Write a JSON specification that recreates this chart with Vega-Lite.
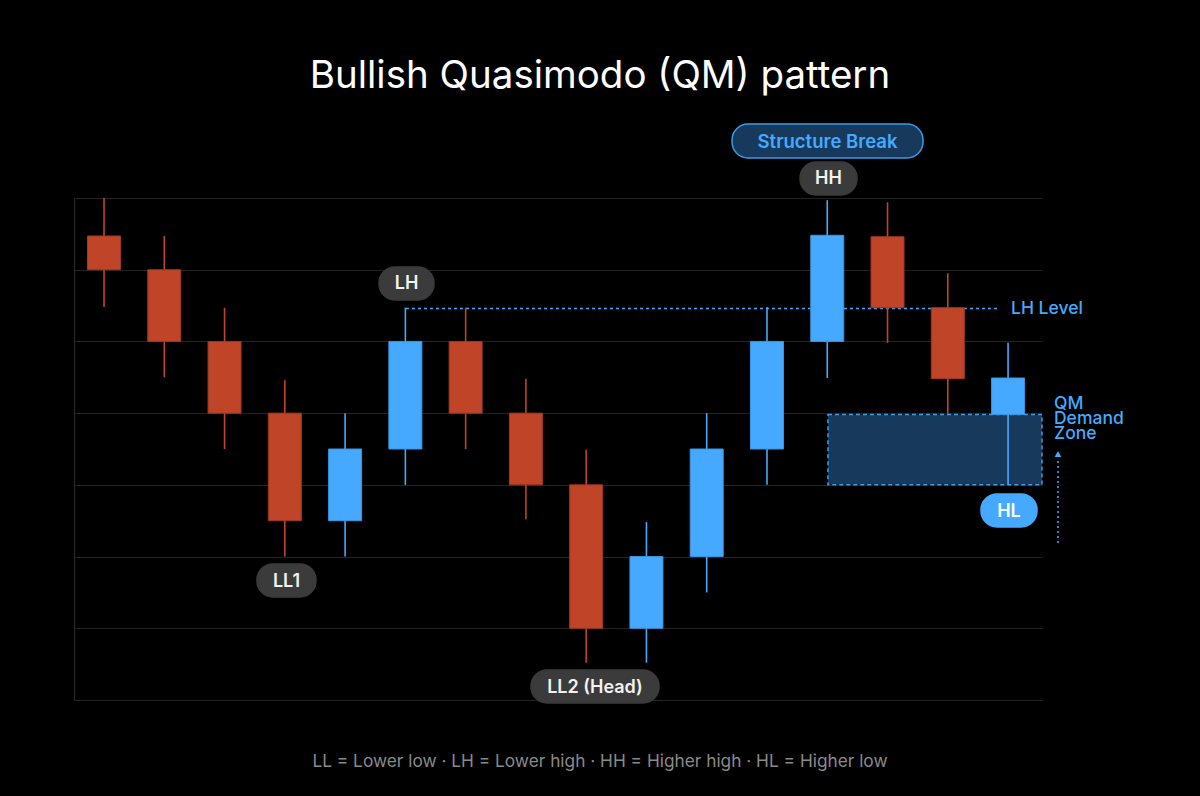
{
  "$schema": "https://vega.github.io/schema/vega-lite/v6.json",
  "width": 968,
  "height": 502,
  "autosize": {"type": "none"},
  "padding": {"left": 74, "top": 198, "right": 158, "bottom": 96},
  "background": "#000000",
  "config": {
    "view": {"stroke": null},
    "font": "Inter",
    "axisX": {"disable": true},
    "axisY": {"grid": true, "gridColor": "#222222", "gridWidth": 1, "domain": true, "domainColor": "#2a2a2a", "domainWidth": 1, "ticks": false, "labels": false, "tickCount": 7, "title": null}
  },
  "datasets": {
    "candles": [
      {"t": 1, "open": 6.47, "close": 6.0, "high": 7.0, "low": 5.48, "dir": "down"},
      {"t": 2, "open": 6.0, "close": 5.0, "high": 6.47, "low": 4.5, "dir": "down"},
      {"t": 3, "open": 5.0, "close": 4.0, "high": 5.47, "low": 3.5, "dir": "down"},
      {"t": 4, "open": 4.0, "close": 2.5, "high": 4.46, "low": 2.0, "dir": "down"},
      {"t": 5, "open": 2.5, "close": 3.5, "high": 4.0, "low": 2.0, "dir": "up"},
      {"t": 6, "open": 3.5, "close": 5.0, "high": 5.47, "low": 3.0, "dir": "up"},
      {"t": 7, "open": 5.0, "close": 4.0, "high": 5.47, "low": 3.5, "dir": "down"},
      {"t": 8, "open": 4.0, "close": 3.0, "high": 4.48, "low": 2.52, "dir": "down"},
      {"t": 9, "open": 3.0, "close": 1.0, "high": 3.49, "low": 0.52, "dir": "down"},
      {"t": 10, "open": 1.0, "close": 2.0, "high": 2.48, "low": 0.52, "dir": "up"},
      {"t": 11, "open": 2.0, "close": 3.5, "high": 4.0, "low": 1.5, "dir": "up"},
      {"t": 12, "open": 3.5, "close": 5.0, "high": 5.48, "low": 3.0, "dir": "up"},
      {"t": 13, "open": 5.0, "close": 6.48, "high": 6.97, "low": 4.49, "dir": "up"},
      {"t": 14, "open": 6.46, "close": 5.47, "high": 6.94, "low": 4.98, "dir": "down"},
      {"t": 15, "open": 5.47, "close": 4.48, "high": 5.95, "low": 3.99, "dir": "down"},
      {"t": 16, "open": 3.98, "close": 4.49, "high": 4.98, "low": 3.0, "dir": "up"}
    ],
    "pills": [
      {"label": "LH", "kind": "gray", "x1": 5.563, "x2": 6.475, "y1": 5.578, "y2": 6.038, "cx": 6.019, "cy": 5.808},
      {"label": "LL1", "kind": "gray", "x1": 3.538, "x2": 4.517, "y1": 1.436, "y2": 1.897, "cx": 4.028, "cy": 1.666},
      {"label": "LL2 (Head)", "kind": "gray", "x1": 8.085, "x2": 10.208, "y1": -0.042, "y2": 0.418, "cx": 9.146, "cy": 0.188},
      {"label": "HH", "kind": "gray", "x1": 12.548, "x2": 13.494, "y1": 7.042, "y2": 7.502, "cx": 13.021, "cy": 7.272},
      {"label": "Structure Break", "kind": "sb", "x1": 11.42, "x2": 14.589, "y1": 7.558, "y2": 8.032, "cx": 13.004, "cy": 7.795},
      {"label": "HL", "kind": "blue", "x1": 15.551, "x2": 16.48, "y1": 2.412, "y2": 2.873, "cx": 16.015, "cy": 2.642}
    ],
    "zone": [{"x1": 13.012, "x2": 16.563, "y1": 3.0, "y2": 3.98}],
    "lhlevel": [{"x1": 6.01, "x2": 15.866, "y": 5.46}],
    "arrow": [{"x": 16.828, "y1": 2.19, "y2": 3.36, "tip": 3.43}],
    "notes": [
      {"text": "LH Level", "x": 16.049, "y": 5.452},
      {"text": "QM\nDemand\nZone", "x": 16.762, "y": 4.128}
    ],
    "titles": [
      {"text": "Bullish Quasimodo (QM) pattern", "x": 9.229, "y": 8.534, "kind": "title"},
      {"text": "LL = Lower low · LH = Lower high · HH = Higher high · HL = Higher low", "x": 9.229, "y": -0.865, "kind": "foot"}
    ]
  },
  "layer": [
    {
      "data": {"name": "zone"},
      "mark": {"type": "rect", "fill": "#173a5c", "stroke": "#3c9be8", "strokeWidth": 1.5, "strokeDash": [4, 3]},
      "encoding": {
        "x": {"field": "x1", "type": "quantitative", "scale": {"domain": [0.502, 16.563], "nice": false, "zero": false, "padding": 0}, "title": null},
        "x2": {"field": "x2"},
        "y": {"field": "y1", "type": "quantitative", "scale": {"domain": [0, 7], "nice": false, "zero": false, "padding": 0}, "title": null},
        "y2": {"field": "y2"}
      }
    },
    {
      "data": {"name": "lhlevel"},
      "mark": {"type": "rule", "color": "#45aaff", "strokeWidth": 1.5, "strokeDash": [3, 3]},
      "encoding": {
        "x": {"field": "x1", "type": "quantitative", "title": null},
        "x2": {"field": "x2"},
        "y": {"field": "y", "type": "quantitative", "title": null}
      }
    },
    {
      "data": {"name": "candles"},
      "mark": {"type": "rule", "strokeWidth": 1.6},
      "encoding": {
        "x": {"field": "t", "type": "quantitative", "title": null},
        "y": {"field": "low", "type": "quantitative", "title": null},
        "y2": {"field": "high"},
        "color": {"field": "dir", "type": "nominal", "scale": {"domain": ["up", "down", "gray", "blue", "sb"], "range": ["#45aaff", "#c04428", "#f2f2f2", "#ffffff", "#45aaff"]}, "legend": null}
      }
    },
    {
      "data": {"name": "candles"},
      "mark": {"type": "bar", "width": 33, "strokeWidth": 1},
      "encoding": {
        "x": {"field": "t", "type": "quantitative", "title": null},
        "y": {"field": "open", "type": "quantitative", "title": null},
        "y2": {"field": "close"},
        "fill": {"field": "dir", "type": "nominal", "scale": {"domain": ["up", "down", "gray", "blue", "sb"], "range": ["#45aaff", "#c04428", "#3b3b3b", "#45aaff", "#173a5c"]}, "legend": null},
        "stroke": {"field": "dir", "type": "nominal", "scale": {"domain": ["up", "down", "gray", "blue", "sb"], "range": ["#3a95e0", "#9e3820", "#3b3b3b", "#45aaff", "#3a9ae8"]}, "legend": null}
      }
    },
    {
      "data": {"name": "pills"},
      "mark": {"type": "rect", "cornerRadius": 16, "strokeWidth": 1.5},
      "encoding": {
        "x": {"field": "x1", "type": "quantitative", "title": null},
        "x2": {"field": "x2"},
        "y": {"field": "y1", "type": "quantitative", "title": null},
        "y2": {"field": "y2"},
        "fill": {"field": "kind", "type": "nominal", "legend": null},
        "stroke": {"field": "kind", "type": "nominal", "legend": null}
      }
    },
    {
      "data": {"name": "pills"},
      "transform": [{"filter": "datum.kind !== 'sb'"}],
      "mark": {"type": "text", "fontSize": 18, "fontWeight": 600, "baseline": "middle", "align": "center", "dy": 1},
      "encoding": {
        "x": {"field": "cx", "type": "quantitative", "title": null},
        "y": {"field": "cy", "type": "quantitative", "title": null},
        "text": {"field": "label"},
        "color": {"field": "kind", "type": "nominal", "legend": null}
      }
    },
    {
      "data": {"name": "pills"},
      "transform": [{"filter": "datum.kind === 'sb'"}],
      "mark": {"type": "text", "fontSize": 18.5, "fontWeight": 600, "baseline": "middle", "align": "center", "dy": 1},
      "encoding": {
        "x": {"field": "cx", "type": "quantitative", "title": null},
        "y": {"field": "cy", "type": "quantitative", "title": null},
        "text": {"field": "label"},
        "color": {"field": "kind", "type": "nominal", "legend": null}
      }
    },
    {
      "data": {"name": "arrow"},
      "mark": {"type": "rule", "color": "#45aaff", "strokeWidth": 1.5, "strokeDash": [2, 3]},
      "encoding": {
        "x": {"field": "x", "type": "quantitative", "title": null},
        "y": {"field": "y1", "type": "quantitative", "title": null},
        "y2": {"field": "y2"}
      }
    },
    {
      "data": {"name": "arrow"},
      "mark": {"type": "point", "shape": "triangle-up", "filled": true, "size": 45, "color": "#45aaff", "opacity": 1},
      "encoding": {
        "x": {"field": "x", "type": "quantitative", "title": null},
        "y": {"field": "tip", "type": "quantitative", "title": null}
      }
    },
    {
      "data": {"name": "notes"},
      "mark": {"type": "text", "fontSize": 17.5, "fontWeight": 500, "align": "left", "baseline": "middle", "color": "#45aaff", "lineBreak": "\n", "lineHeight": 15},
      "encoding": {
        "x": {"field": "x", "type": "quantitative", "title": null},
        "y": {"field": "y", "type": "quantitative", "title": null},
        "text": {"field": "text"}
      }
    },
    {
      "data": {"name": "titles"},
      "transform": [{"filter": "datum.kind === 'title'"}],
      "mark": {"type": "text", "fontSize": 38.5, "fontWeight": 400, "align": "center", "baseline": "alphabetic", "color": "#ffffff"},
      "encoding": {
        "x": {"field": "x", "type": "quantitative", "title": null},
        "y": {"field": "y", "type": "quantitative", "title": null},
        "text": {"field": "text"}
      }
    },
    {
      "data": {"name": "titles"},
      "transform": [{"filter": "datum.kind === 'foot'"}],
      "mark": {"type": "text", "fontSize": 17.3, "fontWeight": 400, "align": "center", "baseline": "middle", "color": "#8a8a8a"},
      "encoding": {
        "x": {"field": "x", "type": "quantitative", "title": null},
        "y": {"field": "y", "type": "quantitative", "title": null},
        "text": {"field": "text"}
      }
    }
  ]
}
